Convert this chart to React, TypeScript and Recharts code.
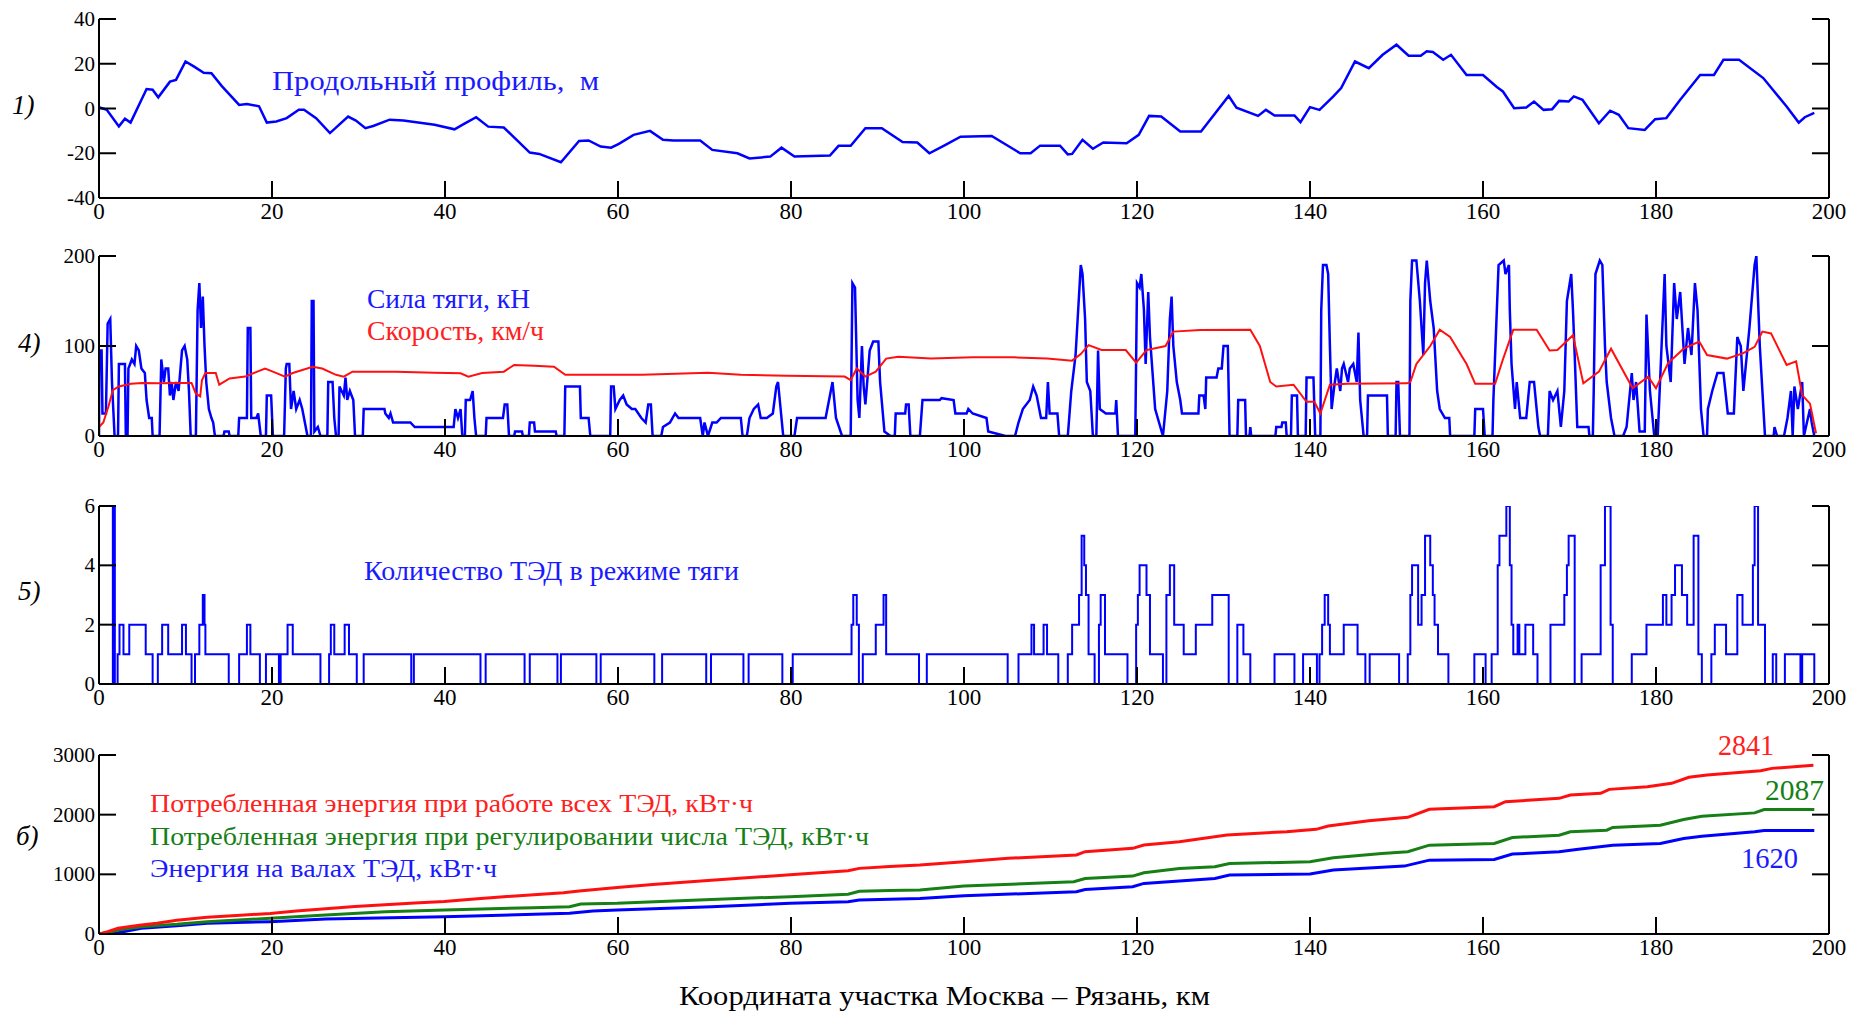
import React from 'react';
import { LineChart, Line, XAxis, YAxis } from 'recharts';

const FONT = '"Liberation Serif", "Times New Roman", serif';
const BLUE = '#0000ff';
const RED = '#ff1010';
const GREEN = '#168016';
const TXT_BLUE = '#1a1aff';

const xTicks = [0, 20, 40, 60, 80, 100, 120, 140, 160, 180, 200];
const profileTicks = [-40, -20, 0, 20, 40];
const forceTicks = [0, 100, 200];
const motorTicks = [0, 2, 4, 6];
const energyTicks = [0, 1000, 2000, 3000];

// Panel 1: longitudinal profile [km, m]
const profile: number[][] = [
  [0, 0.6], [0.9, -0.6], [2.3, -8], [3.0, -4.6], [3.65, -6.3], [5.5, 8.7], [6.2, 8.4], [6.85, 5], [8.2, 12], [8.9, 12.8],
  [10.0, 21], [11, 18.7], [12.1, 16], [13, 15.8], [14.2, 10], [16.2, 1.6], [17.1, 2], [18.5, 1], [19.4, -6.3], [20.5, -5.8],
  [21.7, -4.3], [23.1, -0.6], [23.7, -0.6], [25.1, -4.3], [26.7, -11], [28.8, -3.6], [29.7, -5.4], [30.8, -8.8], [31.7, -7.8],
  [33.6, -5], [35.2, -5.4], [38.8, -7.3], [41.1, -9.3], [42.2, -6.9], [43.6, -3.9], [45, -8.1], [46.8, -8.5], [49.8, -19.7],
  [50.9, -20.3], [53.4, -24], [55.5, -14.5], [56.6, -14.3], [58, -17], [59.2, -17.5], [60.1, -15.8], [61.8, -11.8], [63.7, -10],
  [65.2, -14], [66.4, -14.3], [69.5, -14.3], [70.9, -18.5], [73.8, -20], [75.2, -22.3], [77.6, -21.5], [78.9, -17.5], [80.4, -21.5],
  [84.5, -21], [85.5, -16.7], [86.9, -16.7], [88.6, -8.8], [90.5, -8.8], [92.9, -15], [94.6, -15.2], [96, -20], [97.7, -16.6],
  [99.6, -12.6], [103.2, -12.3], [106.5, -20], [107.7, -20], [108.8, -16.6], [111.1, -16.6], [112, -20.5], [112.5, -20.3],
  [113.7, -14], [114.9, -18], [116.1, -15.2], [118.8, -15.5], [120.2, -11.8], [121.4, -3.3], [122.8, -3.6], [125, -10.3],
  [127.4, -10.3], [130.6, 5.6], [131.5, 0.4], [134, -3.3], [134.9, -0.6], [135.9, -3.1], [138.2, -3.1], [138.9, -6.1], [140, 0.6],
  [141.1, -0.6], [142.7, 5.4], [143.6, 9.1], [145.2, 21], [146.8, 18], [148.4, 24], [150, 28.5], [151.4, 23.6], [152.8, 23.6],
  [153.5, 25.6], [154.2, 25.3], [155.4, 21.8], [156.3, 24], [158.1, 15], [160, 15], [161.6, 9.6], [162.3, 7.6], [163.6, 0.1],
  [165, 0.4], [165.9, 3.1], [167, -0.6], [168, -0.3], [168.8, 3.4], [169.9, 3.1], [170.5, 5.4], [171.5, 3.9], [173.4, -6.6],
  [174.7, -1], [175.7, -2.8], [176.8, -8.8], [178.7, -9.6], [179.9, -4.8], [181.2, -4.3], [182.8, 3.9], [185.1, 15], [186.7, 15],
  [187.8, 21.8], [189.6, 21.8], [192.4, 13.6], [195.1, 0.9], [196.5, -6.3], [197.2, -3.9], [198.3, -2],
];

// Panel 4): traction force [km, kN]
const force: number[][] = [
  [0, 0], [0.05, 95], [0.3, 95], [0.4, 25], [0.8, 25], [1.0, 125], [1.3, 130], [1.5, 60], [1.8, 0], [2.2, 0], [2.3, 80], [3.0, 80],
  [3.1, 0], [3.3, 0], [3.4, 75], [3.8, 85], [4.1, 80], [4.3, 100], [4.6, 95], [4.9, 75], [5.3, 70], [5.5, 40], [5.8, 20], [6.1, 20],
  [6.2, 0], [7.0, 0], [7.2, 85], [7.5, 60], [7.7, 75], [8.0, 75], [8.2, 45], [8.4, 60], [8.6, 40], [8.9, 60], [9.2, 50], [9.6, 95],
  [9.9, 100], [10.2, 85], [10.4, 50], [10.6, 0], [11.2, 0], [11.4, 140], [11.6, 170], [11.8, 120], [12.0, 155], [12.2, 100],
  [12.4, 60], [12.7, 30], [13.0, 20], [13.2, 15], [13.4, 0], [14.4, 0], [14.5, 5], [15.0, 5], [15.1, 0], [16.1, 0], [16.2, 20],
  [17.1, 20], [17.2, 120], [17.5, 120], [17.6, 20], [18.2, 20], [18.4, 25], [18.7, 0], [19.3, 0], [19.4, 45], [19.9, 45], [20.1, 0],
  [21.4, 0], [21.6, 75], [21.7, 80], [22.0, 80], [22.2, 30], [22.5, 50], [22.8, 30], [23.2, 40], [23.5, 30], [24.1, 0], [24.5, 0],
  [24.6, 150], [24.8, 150], [24.9, 5], [25.3, 10], [25.6, 0], [26.4, 0], [26.5, 60], [27.0, 60], [27.2, 20], [27.4, 0], [27.7, 0],
  [27.8, 55], [28.3, 45], [28.5, 65], [28.7, 40], [29.0, 50], [29.4, 40], [29.6, 0], [30.5, 0], [30.6, 30], [33.0, 30], [33.1, 25],
  [33.5, 20], [33.7, 25], [34.0, 15], [36.0, 15], [36.5, 10], [41.0, 10], [41.2, 30], [41.5, 20], [41.8, 30], [42.0, 0], [42.3, 0],
  [42.4, 40], [42.9, 40], [43.2, 50], [43.4, 20], [43.6, 0], [44.7, 0], [44.8, 20], [46.7, 20], [46.9, 35], [47.2, 35], [47.4, 0],
  [48.0, 0], [48.1, 5], [48.9, 5], [49.0, 0], [49.7, 0], [49.8, 15], [50.3, 15], [50.4, 5], [52.8, 5], [52.9, 0], [53.8, 0],
  [53.9, 55], [55.6, 55], [55.7, 20], [56.6, 20], [56.8, 0], [59.1, 0], [59.2, 55], [59.5, 55], [59.7, 30], [60.2, 40], [60.6, 45],
  [61.0, 35], [61.6, 30], [62.0, 30], [62.7, 20], [63.2, 15], [63.5, 35], [63.8, 35], [64.0, 0], [65.0, 0], [65.2, 10], [66.0, 15],
  [66.6, 25], [67.0, 20], [69.5, 20], [69.8, 0], [70.0, 15], [70.4, 0], [70.9, 15], [71.4, 15], [71.9, 20], [74.2, 20], [74.4, 0],
  [74.9, 0], [75.2, 20], [75.7, 30], [76.2, 35], [76.5, 20], [77.2, 20], [77.9, 25], [78.3, 55], [78.5, 60], [78.8, 30], [79.1, 0],
  [80.4, 0], [80.7, 20], [84.0, 20], [84.5, 45], [84.8, 60], [85.2, 20], [85.9, 0], [86.9, 0], [87.1, 170], [87.4, 165], [87.7, 40],
  [87.9, 20], [88.2, 100], [88.4, 55], [88.6, 35], [89.1, 95], [89.5, 105], [90.1, 105], [90.3, 60], [90.8, 5], [91.5, 0], [92.0, 0],
  [92.1, 25], [93.2, 25], [93.3, 35], [93.6, 35], [93.8, 0], [94.9, 0], [95.2, 40], [97.2, 40], [97.4, 42], [98.8, 40], [99.0, 25],
  [100.3, 25], [100.5, 30], [101.0, 25], [102.6, 20], [102.8, 5], [104.8, 0], [105.9, 0], [106.3, 15], [106.8, 30], [107.6, 40],
  [108.0, 55], [108.4, 45], [108.9, 20], [109.5, 20], [109.7, 60], [109.9, 25], [110.8, 25], [111.0, 0], [112.0, 0], [112.4, 50],
  [112.9, 90], [113.5, 190], [113.7, 180], [114.0, 130], [114.2, 60], [114.6, 50], [114.9, 0], [115.3, 0], [115.5, 95], [115.7, 30],
  [116.4, 25], [117.5, 25], [117.6, 40], [117.8, 0], [119.8, 0], [120.0, 170], [120.3, 165], [120.5, 180], [120.8, 140], [121.0, 80],
  [121.3, 160], [121.5, 110], [122.1, 30], [123.0, 0], [123.5, 50], [123.8, 130], [124.0, 155], [124.2, 100], [124.6, 60],
  [125.0, 40], [125.2, 25], [127.1, 25], [127.2, 45], [127.7, 45], [127.9, 30], [128.0, 65], [129.2, 65], [129.4, 75], [129.8, 75],
  [130.0, 100], [130.5, 100], [130.7, 0], [131.6, 0], [131.7, 40], [132.5, 40], [132.6, 0], [133.0, 0], [133.1, 10], [133.2, 0],
  [136.0, 0], [136.1, 10], [136.7, 10], [136.8, 15], [137.2, 15], [137.3, 0], [137.8, 0], [137.9, 45], [138.5, 45], [138.6, 0],
  [139.5, 0], [139.6, 65], [140.4, 65], [140.6, 0], [141.2, 0], [141.3, 140], [141.5, 190], [141.9, 190], [142.1, 180], [142.3, 100],
  [142.5, 30], [142.8, 55], [143.1, 75], [143.5, 50], [143.7, 75], [143.9, 80], [144.4, 60], [144.6, 75], [145.0, 80], [145.4, 60],
  [145.6, 115], [145.8, 40], [146.2, 0], [146.6, 0], [146.7, 45], [148.9, 45], [149.0, 0], [149.9, 0], [150.0, 60], [150.2, 60],
  [150.4, 0], [151.5, 0], [151.6, 150], [151.8, 195], [152.3, 195], [152.7, 150], [153.1, 90], [153.3, 170], [153.5, 195],
  [153.9, 150], [154.3, 120], [154.7, 50], [155.0, 30], [155.6, 20], [156.1, 20], [156.2, 0], [159.0, 0], [159.1, 30], [160.0, 30],
  [160.2, 0], [161.1, 0], [161.2, 40], [161.8, 190], [162.4, 195], [162.6, 180], [163.0, 190], [163.1, 140], [163.3, 80],
  [163.7, 30], [163.9, 60], [164.3, 20], [165.0, 20], [165.4, 60], [165.9, 60], [166.4, 10], [166.6, 0],
  [167.5, 0], [167.7, 50], [168.1, 40], [168.6, 50], [169.0, 10], [169.4, 50], [169.7, 150], [170.2, 180],
  [170.4, 140], [170.6, 90], [170.9, 10], [172.2, 10], [172.3, 0], [172.7, 0], [172.8, 50], [173.0, 180], [173.5, 195], [173.8, 190],
  [174.1, 100], [174.3, 60], [174.8, 20], [175.2, 0], [176.2, 0], [176.6, 10], [177.2, 70], [177.4, 40], [177.7, 60], [178.1, 5],
  [178.7, 5], [178.9, 135], [179.3, 50], [179.8, 0], [180.2, 0], [180.6, 90], [181.0, 180], [181.2, 100], [181.7, 60], [182.1, 170],
  [182.4, 130], [182.8, 160], [183.3, 80], [183.7, 120], [184.1, 90], [184.5, 170], [184.8, 140], [185.2, 30], [185.5, 0], [185.9, 0],
  [186.0, 30], [186.5, 50], [187.1, 70], [187.8, 70], [188.3, 25], [189.0, 25], [189.4, 110], [189.8, 100], [190.1, 50], [190.8, 120],
  [191.4, 190], [191.6, 200], [192.0, 100], [192.6, 0], [193.6, 0], [193.7, 10], [194.0, 0], [194.8, 0], [195.2, 20], [195.6, 50],
  [195.8, 0], [196.0, 55], [196.4, 30], [196.9, 60], [197.1, 0], [197.8, 30], [198.0, 15], [198.3, 0],
];

// Panel 4): speed [km, km/h]
const speed: number[][] = [
  [0, 10], [0.5, 15], [1.1, 33], [1.6, 51], [2.3, 55], [3.7, 58], [5, 59], [6.9, 58.5], [9.1, 59], [10.7, 59], [11.2, 47], [11.7, 44],
  [11.9, 62], [12.3, 70], [13.5, 70], [13.9, 57], [15.1, 64], [16.9, 66], [18.3, 71.5], [19.2, 75], [20.1, 71.5], [21.5, 66],
  [22.4, 70], [24.7, 77], [25.8, 75], [27.4, 68], [28.3, 66], [29.3, 71.5], [34.3, 71.5], [38.8, 70.4], [41.8, 69.6], [42.7, 66],
  [44.3, 70], [46.8, 71.5], [48, 79], [50.3, 78], [52.6, 77], [53.9, 68], [57.1, 68], [62.8, 68], [70.4, 70.4], [74.2, 68],
  [79.5, 67], [86.2, 66], [86.9, 62], [87.6, 75], [88.6, 66], [89.8, 71.5], [91, 86], [92.4, 88], [96.2, 86], [101, 87.4],
  [105.8, 87.4], [109.6, 86], [112.5, 83.7], [113.5, 91], [114.4, 101], [115.9, 95.5], [118.7, 95.5], [119.9, 81.5], [121.1, 95.5],
  [123.3, 100], [124.2, 116], [127.3, 117.8], [133.1, 118], [134.2, 100], [135.4, 60], [136.1, 55], [138.1, 57], [139.6, 38],
  [140.5, 38], [141.2, 25], [142.3, 57], [144.3, 58], [151.2, 58.5], [151.6, 60], [152.3, 80], [153.9, 100], [155.0, 118],
  [156.2, 110], [158.1, 80], [159.1, 58], [161.4, 58], [162.3, 85], [163.5, 118], [166.2, 118], [167.7, 95], [168.6, 95.5],
  [170.4, 112], [171.6, 58.5], [173.4, 71.5], [174.8, 97], [177.3, 53], [179.1, 66], [180, 53], [181.4, 81], [183.2, 97], [185, 105],
  [185.9, 90], [188.2, 86], [190.1, 92], [191.4, 99], [192.3, 116], [193.3, 114], [195.1, 79], [196.2, 83], [196.9, 45.5],
  [197.8, 36], [198.5, 3],
];

// Panel 5): number of traction motors [km where value starts, count]
const motors: number[][] = [
  [0, 0], [1.6, 6], [1.83, 0], [2.15, 1], [2.37, 2], [2.83, 1], [3.5, 2], [5.4, 1], [6.2, 0], [6.8, 1], [7.3, 2], [8.0, 1], [9.6, 2],
  [10.05, 1], [10.7, 0], [11.1, 1], [11.6, 2], [12.0, 3], [12.2, 2], [12.3, 1], [15.0, 0], [16.2, 1], [17.1, 2], [17.5, 1], [18.6, 0],
  [19.3, 1], [20.8, 0], [21.0, 1], [21.8, 2], [22.4, 1], [25.6, 0], [26.6, 1], [26.8, 2], [27.2, 1], [28.4, 2], [28.9, 1], [29.8, 0],
  [30.6, 1], [36.1, 0], [36.4, 1], [44.1, 0], [44.7, 1], [49.2, 0], [49.8, 1], [53.0, 0], [53.4, 1], [57.5, 0], [58.0, 1], [64.2, 0],
  [65.1, 1], [70.2, 0], [70.75, 1], [74.5, 0], [75.1, 1], [79.0, 0], [80.2, 1], [87.0, 2], [87.2, 3], [87.6, 2], [87.85, 0], [88.3, 1],
  [89.8, 2], [90.7, 3], [91.0, 1], [94.8, 0], [95.7, 1], [105.05, 0], [106.3, 1], [107.8, 2], [108.1, 1], [109.2, 2], [109.6, 1],
  [110.9, 0], [112.0, 1], [112.5, 2], [113.3, 3], [113.6, 5], [113.9, 4], [114.1, 3], [114.4, 1], [115.1, 0], [115.6, 2], [115.8, 3],
  [116.3, 1], [118.9, 0], [119.9, 2], [120.1, 3], [120.3, 4], [121.1, 3], [121.5, 1], [123.0, 0], [123.4, 3], [123.8, 4], [124.3, 2],
  [125.4, 1], [126.8, 2], [128.7, 3], [130.6, 0], [131.6, 2], [132.3, 1], [133.1, 0], [135.9, 1], [138.2, 0], [139.2, 1], [140.8, 0],
  [141.1, 1], [141.4, 2], [141.7, 3], [142.1, 2], [142.3, 1], [143.9, 2], [145.5, 1], [146.4, 0], [146.9, 1], [150.3, 0], [151.3, 1],
  [151.6, 3], [151.8, 4], [152.5, 2], [152.9, 3], [153.3, 5], [153.9, 4], [154.2, 3], [154.4, 2], [154.8, 1], [156.0, 0], [159.0, 1],
  [160.3, 0], [161.0, 1], [161.7, 4], [161.9, 5], [162.7, 6], [163.1, 4], [163.3, 2], [163.5, 1], [164.0, 2], [164.2, 1], [164.9, 2],
  [165.8, 1], [166.3, 0], [167.8, 2], [169.4, 3], [169.7, 4], [169.9, 5], [170.6, 0], [171.4, 1], [173.6, 4], [174.1, 6], [174.75, 2],
  [175.0, 0], [177.2, 1], [178.9, 2], [180.8, 3], [181.2, 2], [181.8, 3], [182.2, 4], [183.0, 3], [183.6, 2], [184.35, 5], [184.9, 1],
  [185.3, 0], [186.4, 1], [186.8, 2], [188.1, 1], [189.4, 3], [190.0, 2], [191.2, 4], [191.4, 6], [191.8, 2], [192.6, 0], [193.5, 1],
  [193.9, 0], [194.9, 1], [196.7, 0], [196.9, 1], [198.3, 0],
];

// Panel б): cumulative energy [km, kWh]
const energyAll: number[][] = [
  [0, 0], [1, 40], [2.2, 95], [4.9, 150], [6.7, 180], [9, 230], [12.5, 280], [15.9, 310], [19.8, 345], [22.8, 385], [29.6, 460],
  [36.5, 520], [39.9, 545], [43.4, 585], [46.8, 625], [53.7, 690], [55.5, 720], [59.9, 780], [64, 830], [70.8, 900], [79.9, 995],
  [86.6, 1060], [87.9, 1100], [91.4, 1130], [94.9, 1156], [100, 1212], [105.1, 1268], [113, 1324], [114, 1380], [119.5, 1436],
  [120.8, 1492], [124.9, 1547], [130.4, 1659], [137.3, 1715], [140.7, 1754], [142.1, 1810], [146.8, 1899], [151.3, 1955],
  [153.8, 2089], [161.3, 2134], [162.6, 2218], [168.8, 2274], [170.1, 2330], [173.6, 2357], [174.6, 2424], [179, 2469],
  [181.8, 2525], [183.8, 2626], [185.9, 2665], [192.1, 2737], [193.4, 2776], [198.2, 2830],
];
const energyRegulated: number[][] = [
  [0, 0], [1, 25], [2.2, 67], [4.9, 123], [9, 162], [12.5, 207], [19.8, 263], [26.2, 318], [33.1, 374], [39.9, 402], [50.2, 441],
  [54.4, 458], [55.7, 503], [59.9, 514], [70.8, 580], [79.9, 626], [86.6, 665], [87.9, 715], [91.4, 730], [94.9, 736], [100, 803],
  [112.7, 876], [114, 931], [119.5, 970], [120.8, 1026], [124.9, 1099], [129, 1127], [130.7, 1182], [140, 1210], [142.7, 1277],
  [148.3, 1350], [151.3, 1378], [153.8, 1489], [161.3, 1517], [163.4, 1617], [168.8, 1656], [170.1, 1712], [174.3, 1740],
  [175, 1785], [180.5, 1824], [183.2, 1919], [185.3, 1974], [191.4, 2030], [192.5, 2086], [198.3, 2087],
];
const energyShaft: number[][] = [
  [0, 0], [2.2, 22], [4.9, 95], [9, 140], [12.5, 179], [19.8, 207], [26.2, 251], [39.9, 290], [54.4, 346], [57.1, 385], [59.9, 402],
  [70.8, 458], [79.9, 514], [86.6, 542], [87.9, 570], [94.9, 597], [100, 641], [113, 708], [114, 747], [119.5, 792], [120.8, 848],
  [129, 931], [130.7, 987], [140, 1004], [142.7, 1071], [150.9, 1138], [153.8, 1238], [161.3, 1249], [163.4, 1339], [168.8, 1378],
  [170.8, 1417], [175, 1489], [180.5, 1517], [183.2, 1601], [185.3, 1640], [191.4, 1712], [192.5, 1735], [198.3, 1735],
];

const rows = (pairs: number[][]) => pairs.map(([x, y]) => ({ x, y }));

const TICK_LEN = 17;
const PAD_TOP = 22;

function BottomTick(props: any) {
  const { x, y, payload } = props;
  return (
    <g>
      <line x1={x} x2={x} y1={y} y2={y - TICK_LEN} stroke="#000" strokeWidth={2} />
      <text x={x} y={y + 21} textAnchor="middle" fontSize={23} fontFamily={FONT} fill="#000">
        {payload.value}
      </text>
    </g>
  );
}
function TopTick(props: any) {
  const { x, y } = props;
  return <line x1={x} x2={x} y1={y} y2={y + TICK_LEN} stroke="#000" strokeWidth={2} />;
}
function LeftTick(props: any) {
  const { x, y, payload } = props;
  return (
    <g>
      <line x1={x} x2={x + TICK_LEN} y1={y} y2={y} stroke="#000" strokeWidth={2} />
      <text x={x - 4} y={y + 7} textAnchor="end" fontSize={21} fontFamily={FONT} fill="#000">
        {payload.value}
      </text>
    </g>
  );
}
function RightTick(props: any) {
  const { x, y } = props;
  return <line x1={x} x2={x - TICK_LEN} y1={y} y2={y} stroke="#000" strokeWidth={2} />;
}

type PanelProps = {
  top: number;
  plotH: number;
  domain: number[];
  yTicks: number[];
  children: React.ReactNode;
};

function Panel({ top, plotH, domain, yTicks, children }: PanelProps) {
  const H = plotH + PAD_TOP + 40;
  const axisLine = { stroke: '#000', strokeWidth: 2 };
  return (
    <div style={{ position: 'absolute', left: 0, top: top - PAD_TOP, width: 1850, height: H }}>
      <LineChart width={1850} height={H} margin={{ top: PAD_TOP, right: 20, bottom: 10, left: 39 }}>
        <XAxis
          xAxisId="b"
          type="number"
          dataKey="x"
          domain={[0, 200]}
          ticks={xTicks}
          interval={0}
          allowDataOverflow
          height={30}
          tickSize={0}
          tickMargin={0}
          tickLine={false}
          axisLine={axisLine}
          tick={<BottomTick />}
        />
        <XAxis
          xAxisId="t"
          orientation="top"
          type="number"
          dataKey="x"
          domain={[0, 200]}
          ticks={xTicks}
          interval={0}
          allowDataOverflow
          height={0}
          tickSize={0}
          tickMargin={0}
          tickLine={false}
          axisLine={axisLine}
          tick={<TopTick />}
        />
        <YAxis
          yAxisId="l"
          type="number"
          domain={domain}
          ticks={yTicks}
          interval={0}
          allowDataOverflow
          width={60}
          tickSize={0}
          tickMargin={0}
          tickLine={false}
          axisLine={axisLine}
          tick={<LeftTick />}
        />
        <YAxis
          yAxisId="r"
          orientation="right"
          type="number"
          domain={domain}
          ticks={yTicks}
          interval={0}
          allowDataOverflow
          width={1}
          tickSize={0}
          tickMargin={0}
          tickLine={false}
          axisLine={axisLine}
          tick={<RightTick />}
        />
        {children}
      </LineChart>
    </div>
  );
}

export default function App() {
  const txt = (x: number, y: number, s: string, size: number, color: string, len?: number, italic?: boolean) => (
    <text
      x={x}
      y={y}
      fontSize={size}
      fontFamily={FONT}
      fill={color}
      fontStyle={italic ? 'italic' : 'normal'}
      textLength={len}
      lengthAdjust={len ? 'spacingAndGlyphs' : undefined}
    >
      {s}
    </text>
  );
  return (
    <div style={{ position: 'absolute', left: 0, top: 0, width: 1850, height: 1012, background: '#fff', overflow: 'hidden' }}>
      <Panel top={19} plotH={179} domain={[-40, 40]} yTicks={profileTicks}>
        <Line xAxisId="b" yAxisId="l" data={rows(profile)} dataKey="y" type="linear" stroke={BLUE} strokeWidth={2.5} dot={false} isAnimationActive={false} />
      </Panel>
      <Panel top={256} plotH={180} domain={[0, 200]} yTicks={forceTicks}>
        <Line xAxisId="b" yAxisId="l" data={rows(force)} dataKey="y" type="linear" stroke={BLUE} strokeWidth={2.5} dot={false} isAnimationActive={false} />
        <Line xAxisId="b" yAxisId="l" data={rows(speed)} dataKey="y" type="linear" stroke={RED} strokeWidth={2} dot={false} isAnimationActive={false} />
      </Panel>
      <Panel top={506} plotH={178} domain={[0, 6]} yTicks={motorTicks}>
        <Line xAxisId="b" yAxisId="l" data={rows(motors)} dataKey="y" type="stepAfter" stroke={BLUE} strokeWidth={2} dot={false} isAnimationActive={false} />
      </Panel>
      <Panel top={755} plotH={179} domain={[0, 3000]} yTicks={energyTicks}>
        <Line xAxisId="b" yAxisId="l" data={rows(energyShaft)} dataKey="y" type="linear" stroke={BLUE} strokeWidth={3} dot={false} isAnimationActive={false} />
        <Line xAxisId="b" yAxisId="l" data={rows(energyRegulated)} dataKey="y" type="linear" stroke={GREEN} strokeWidth={3} dot={false} isAnimationActive={false} />
        <Line xAxisId="b" yAxisId="l" data={rows(energyAll)} dataKey="y" type="linear" stroke={RED} strokeWidth={3} dot={false} isAnimationActive={false} />
      </Panel>
      <svg width={1850} height={1012} style={{ position: 'absolute', left: 0, top: 0, pointerEvents: 'none' }}>
        {txt(12, 114, '1)', 27, '#000', undefined, true)}
        {txt(18, 352, '4)', 27, '#000', undefined, true)}
        {txt(18, 600, '5)', 27, '#000', undefined, true)}
        {txt(16, 845, 'б)', 27, '#000', undefined, true)}
        {txt(272, 90, 'Продольный профиль,\u00a0\u00a0м', 27, TXT_BLUE, 327)}
        {txt(367, 308, 'Сила тяги, кН', 27, TXT_BLUE, 163)}
        {txt(367, 340, 'Скорость, км/ч', 27, '#ff2020', 177)}
        {txt(364, 580, 'Количество ТЭД в режиме тяги', 27, TXT_BLUE, 375)}
        {txt(150, 812, 'Потребленная энергия при работе всех ТЭД, кВт·ч', 26, '#ff2020', 603)}
        {txt(150, 845, 'Потребленная энергия при регулировании числа ТЭД, кВт·ч', 26, GREEN, 719)}
        {txt(150, 877, 'Энергия на валах ТЭД, кВт·ч', 26, TXT_BLUE, 347)}
        {txt(1718, 755, '2841', 29, '#ff2020', 56)}
        {txt(1765, 800, '2087', 29, GREEN, 59)}
        {txt(1741, 868, '1620', 29, TXT_BLUE, 57)}
        {txt(679, 1005, 'Координата участка Москва – Рязань, км', 28, '#000', 531)}
      </svg>
    </div>
  );
}
